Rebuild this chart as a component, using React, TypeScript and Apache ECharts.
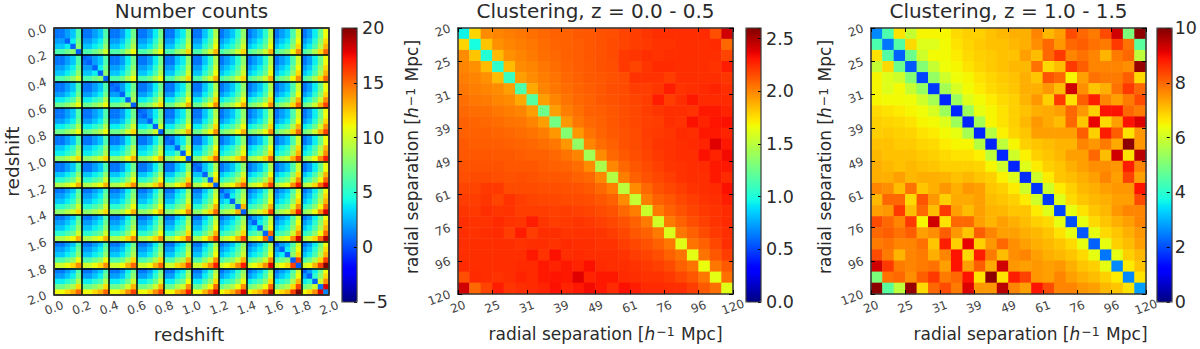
import React, { useEffect, useRef } from "react";
import * as echarts from "echarts";

const redshiftLabels = ["0.0","0.2","0.4","0.6","0.8","1.0","1.2","1.4","1.6","1.8","2.0"];
const separationLabels = ["20","25","31","39","49","61","76","96","120"];

// Number counts: upper-triangle 5x5 blocks, row band i, column band j >= i
const countBlocks: number[][][] = [
[
[1,1,2,3,6,1,1,2,3,6,2,2,.5,4,7,3,3,4,.5,8,6,6,7,8,.5],
[1,1,2,3,6,1,1,2,3,6,2,2,3,4,7,3,3,4,5,8,6,6,7,8,10],
[1,1,2,4,7,1,1,2,4,7,2,2,3,5,8,3,3,4,6,9,6,6,7,9,11],
[1,1,2,4,7,1,1,2,4,7,2,2,3,5,8,3,3,4,6,9,6,6,7,9,11],
[1,1,3,4,8,1,1,3,4,8,2,2,4,5,9,3,3,5,6,10,6,6,8,9,12],
[1,1,3,5,9,1,1,3,5,9,2,2,4,6,10,3,3,5,7,11,6,6,8,10,13],
[1,2,3,5,8,1,2,3,5,8,2,3,4,6,9,3,4,5,7,10,6,7,8,10,12],
[1,2,3,5,9,1,2,3,5,9,2,3,4,6,10,3,4,5,7,11,6,7,8,10,13],
[1,2,3,6,10,1,2,3,6,10,2,3,4,7,11,3,4,5,8,12,6,7,8,11,14],
[1,2,4,7,11,1,2,4,7,11,2,3,5,8,12,3,4,6,9,13,6,7,9,12,15],
],
[
[.5,1,2,3,6,1,.5,2,3,6,2,2,.5,4,7,3,3,4,.5,8,6,6,7,8,.5],
[1,1,2,4,7,1,1,2,4,7,2,2,3,5,8,3,3,4,6,9,6,6,7,9,11],
[1,1,2,4,7,1,1,2,4,7,2,2,3,5,8,3,3,4,6,9,6,6,7,9,11],
[1,1,3,4,8,1,1,3,4,8,2,2,4,5,9,3,3,5,6,10,6,6,8,9,12],
[1,1,3,5,9,1,1,3,5,9,2,2,4,6,10,3,3,5,7,11,6,6,8,10,13],
[1,2,3,5,8,1,2,3,5,8,2,3,4,6,9,3,4,5,7,10,6,7,8,10,12],
[1,2,3,5,9,1,2,3,5,9,2,3,4,6,10,3,4,5,7,11,6,7,8,10,13],
[1,2,3,6,10,1,2,3,6,10,2,3,4,7,11,3,4,5,8,12,6,7,8,11,14],
[1,2,4,7,11,1,2,4,7,11,2,3,5,8,12,3,4,6,9,13,6,7,9,12,15],
],
[
[.5,1,2,4,7,1,.5,2,4,7,2,2,.5,5,8,4,4,5,.5,9,7,7,8,9,.5],
[1,1,2,4,7,1,1,2,4,7,2,2,3,5,8,4,4,5,7,10,7,7,8,10,12],
[1,1,3,4,8,1,1,3,4,8,2,2,4,5,9,4,4,6,7,11,7,7,9,10,13],
[1,1,3,5,9,1,1,3,5,9,2,2,4,6,10,4,4,6,8,12,7,7,9,11,14],
[1,2,3,5,8,1,2,3,5,8,2,3,4,6,9,4,5,6,8,11,7,8,9,11,13],
[1,2,3,5,9,1,2,3,5,9,2,3,4,6,10,4,5,6,8,12,7,8,9,11,14],
[1,2,3,6,10,1,2,3,6,10,2,3,4,7,11,4,5,6,9,13,7,8,9,12,15],
[1,2,4,7,11,1,2,4,7,11,2,3,5,8,12,4,5,7,10,14,7,8,10,13,16],
],
[
[.5,1,2,4,7,1,.5,2,4,7,2,2,.5,5,8,4,4,5,.5,10,7,7,8,10,.5],
[1,1,3,4,8,1,1,3,4,8,2,2,4,5,9,4,4,6,7,11,7,7,9,10,13],
[1,1,3,5,9,1,1,3,5,9,2,2,4,6,10,4,4,6,8,12,7,7,9,11,14],
[1,2,3,5,8,1,2,3,5,8,2,3,4,6,9,4,5,6,8,11,7,8,9,11,13],
[1,2,3,5,9,1,2,3,5,9,2,3,4,6,10,4,5,6,8,12,7,8,9,11,14],
[1,2,3,6,10,1,2,3,6,10,2,3,4,7,11,4,5,6,9,13,7,8,9,12,15],
[1,2,4,7,11,1,2,4,7,11,2,3,5,8,12,4,5,7,10,14,7,8,10,13,16],
],
[
[.5,1,3,4,8,1,.5,3,4,8,3,3,.5,6,10,4,4,6,.5,11,8,8,10,11,.5],
[1,1,3,5,9,1,1,3,5,9,3,3,5,7,11,4,4,6,8,12,8,8,10,12,15],
[1,2,3,5,8,1,2,3,5,8,3,4,5,7,10,4,5,6,8,11,8,9,10,12,14],
[1,2,3,5,9,1,2,3,5,9,3,4,5,7,11,4,5,6,8,12,8,9,10,12,15],
[1,2,3,6,10,1,2,3,6,10,3,4,5,8,12,4,5,6,9,13,8,9,10,13,16],
[1,2,4,7,11,1,2,4,7,11,3,4,6,9,13,4,5,7,10,14,8,9,11,14,17],
],
[
[.5,1,3,5,9,1,.5,3,5,9,3,3,.5,7,11,5,5,7,.5,12,9,9,11,12,.5],
[1,2,3,5,8,1,2,3,5,8,3,4,5,7,10,5,6,7,9,12,9,10,11,13,15],
[1,2,3,5,9,1,2,3,5,9,3,4,5,7,11,5,6,7,9,13,9,10,11,13,16],
[1,2,3,6,10,1,2,3,6,10,3,4,5,8,12,5,6,7,10,14,9,10,11,14,17],
[1,2,4,7,11,1,2,4,7,11,3,4,6,9,13,5,6,8,11,15,9,10,12,15,18],
],
[
[.5,2,3,5,8,2,.5,4,6,9,3,4,.5,7,10,5,6,7,.5,13,8,9,10,13,.5],
[1,2,3,5,9,2,3,4,6,10,3,4,5,7,11,5,6,7,9,13,8,9,10,12,16],
[1,2,3,6,10,2,3,4,7,11,3,4,5,8,12,5,6,7,10,14,8,9,10,13,17],
[1,2,4,7,11,2,3,5,8,12,3,4,6,9,13,5,6,8,11,15,8,9,11,14,18],
],
[
[.5,2,3,5,9,2,.5,4,6,10,3,4,.5,7,11,5,6,7,.5,15,9,10,11,15,.5],
[1,2,3,6,10,2,3,4,7,11,3,4,5,8,12,5,6,7,10,14,9,10,11,14,18],
[1,2,4,7,11,2,3,5,8,12,3,4,6,9,13,5,6,8,11,15,9,10,12,15,19],
],
[
[.5,2,3,6,10,2,.5,4,7,11,3,4,.5,8,12,6,7,8,.5,16,10,11,12,16,.5],
[1,2,4,7,11,2,3,5,8,12,3,4,6,9,13,6,7,9,12,16,10,11,13,16,20],
],
[
[.5,2,4,7,11,2,.5,5,8,12,4,5,.5,10,14,7,8,10,1,18,11,12,14,18,1.5],
],
];

// Clustering z = 0.0 - 0.5: upper triangle, row k starts on the diagonal
const lowZRows: number[][] = [
[0.95,1.78,1.98,2.0,2.02,2.04,2.06,2.08,2.1,2.1,2.12,2.13,2.14,2.15,2.18,2.2,2.22,2.24,2.24,2.24,2.24,2.25,2.15,2.42],
[0.98,1.82,1.97,2.0,2.02,2.04,2.07,2.09,2.1,2.11,2.13,2.14,2.16,2.18,2.2,2.21,2.23,2.23,2.24,2.24,2.24,2.25,2.08],
[1.02,1.85,1.97,2.0,2.03,2.06,2.08,2.1,2.11,2.13,2.14,2.16,2.21,2.22,2.24,2.23,2.24,2.24,2.24,2.24,2.24,2.18],
[1.05,1.85,1.98,2.0,2.04,2.07,2.09,2.11,2.12,2.14,2.15,2.21,2.18,2.22,2.25,2.25,2.24,2.24,2.24,2.23,2.29],
[1.08,1.93,1.98,2.02,2.05,2.08,2.1,2.12,2.13,2.14,2.16,2.23,2.23,2.23,2.2,2.24,2.24,2.24,2.24,2.22],
[1.15,1.9,2.0,2.04,2.07,2.09,2.11,2.13,2.15,2.16,2.2,2.2,2.22,2.29,2.23,2.24,2.25,2.27,2.24],
[1.18,1.93,2.0,2.05,2.08,2.1,2.13,2.14,2.16,2.18,2.2,2.29,2.2,2.24,2.3,2.25,2.25,2.25],
[1.25,1.93,2.02,2.06,2.1,2.11,2.13,2.15,2.17,2.2,2.22,2.24,2.24,2.23,2.3,2.3,2.27],
[1.28,1.95,2.04,2.08,2.1,2.13,2.15,2.17,2.19,2.2,2.24,2.23,2.32,2.27,2.31,2.32],
[1.33,1.95,2.05,2.09,2.12,2.14,2.16,2.2,2.21,2.22,2.25,2.24,2.3,2.3,2.27],
[1.37,2.0,2.07,2.1,2.14,2.16,2.19,2.22,2.23,2.24,2.25,2.27,2.38,2.3],
[1.42,1.98,2.08,2.12,2.15,2.18,2.21,2.23,2.24,2.24,2.32,2.27,2.34],
[1.45,1.99,2.08,2.13,2.16,2.19,2.22,2.23,2.24,2.25,2.3,2.3],
[1.48,2.02,2.1,2.14,2.17,2.2,2.23,2.24,2.24,2.3,2.25],
[1.5,1.98,2.08,2.14,2.17,2.2,2.23,2.24,2.25,2.32],
[1.53,2.02,2.1,2.13,2.17,2.2,2.23,2.24,2.29],
[1.55,2.03,2.1,2.14,2.18,2.21,2.23,2.25],
[1.57,2.03,2.1,2.15,2.19,2.23,2.25],
[1.6,2.04,2.1,2.16,2.21,2.24],
[1.62,2.05,2.1,2.17,2.24],
[1.63,2.05,2.13,2.2],
[1.65,2.04,2.12],
[1.63,2.06],
[1.62],
];

// Clustering z = 1.0 - 1.5: upper triangle, row k starts on the diagonal
const highZRows: number[][] = [
[2.6,4.4,6.7,5.9,6.5,6.5,6.5,6.8,6.9,6.9,7.05,7.15,7.25,7.25,7.7,7.15,7.4,8.3,8.0,7.8,8.3,9.3,5.0,9.9],
[2.4,4.5,6.8,6.2,6.2,6.45,6.7,6.85,6.95,7.05,7.05,7.15,7.25,7.6,8.0,7.5,8.0,8.1,7.9,7.8,8.5,7.9,4.6],
[2.2,4.8,6.0,6.45,6.45,6.6,6.8,6.9,6.95,7.05,7.05,7.4,7.1,8.0,8.5,7.7,7.9,7.7,7.2,7.8,8.0,5.8],
[2.1,5.1,5.9,6.4,6.5,6.7,6.85,6.95,7.05,7.15,7.15,7.9,6.8,7.1,8.5,8.1,7.7,7.7,7.7,7.6,9.8],
[1.9,5.3,6.0,6.4,6.5,6.7,6.85,6.95,7.05,7.25,7.0,8.2,8.0,6.5,7.4,7.9,7.8,7.8,8.1,6.8],
[1.8,5.5,6.1,6.45,6.6,6.8,6.9,7.0,7.25,7.25,7.5,7.1,9.3,7.6,7.0,7.25,7.9,8.5,8.0],
[1.6,5.4,6.2,6.45,6.6,6.8,6.9,7.2,7.5,6.9,8.5,6.7,8.1,8.8,7.7,7.4,7.8,8.3],
[1.6,5.4,6.3,6.5,6.7,6.9,7.05,7.25,7.3,7.4,8.0,7.5,6.9,8.9,8.9,8.0,7.8],
[1.6,5.5,6.5,6.7,6.9,7.15,7.5,7.3,7.1,8.0,7.0,9.1,6.8,7.4,8.9,9.2],
[1.6,5.7,6.55,6.85,7.0,7.4,7.4,7.4,7.4,8.1,6.9,8.8,8.1,6.7,7.5],
[1.6,5.8,6.5,6.9,7.0,7.1,7.2,7.2,7.7,7.5,7.8,7.3,9.9,7.5],
[1.6,6.0,6.55,6.9,7.0,7.15,7.4,7.4,8.0,7.1,9.3,6.7,9.5],
[1.6,6.2,6.6,6.9,7.0,7.25,7.4,7.6,7.6,7.5,8.8,7.7],
[1.7,6.0,6.6,7.0,7.1,7.25,7.4,7.7,7.4,8.4,7.4],
[1.75,6.0,6.6,6.9,7.15,7.25,7.4,7.5,7.5,8.9],
[1.8,6.2,6.8,7.0,7.15,7.25,7.4,7.4,8.3],
[1.9,6.3,6.7,7.0,7.15,7.5,7.7,7.7],
[2.0,6.3,6.8,7.0,7.25,7.4,7.7],
[2.1,6.3,6.8,7.0,7.25,7.5],
[2.2,6.3,6.9,7.1,7.4],
[2.4,6.3,6.9,7.15],
[2.6,6.6,7.0],
[2.6,6.7],
[2.8],
];

const FONT = "DejaVu Sans";
const INK = "#2a2a2a";
const SPINE = "#3a3a3a";

function jet(t: number): string {
  const seg = (pts: number[][]) => {
    for (let i = 1; i < pts.length; i++) {
      if (t <= pts[i][0]) {
        const f = (t - pts[i - 1][0]) / (pts[i][0] - pts[i - 1][0]);
        return pts[i - 1][1] + f * (pts[i][1] - pts[i - 1][1]);
      }
    }
    return pts[pts.length - 1][1];
  };
  const r = seg([[0, 0], [0.35, 0], [0.66, 1], [0.89, 1], [1, 0.5]]);
  const g = seg([[0, 0], [0.125, 0], [0.375, 1], [0.64, 1], [0.91, 0], [1, 0]]);
  const b = seg([[0, 0.5], [0.11, 1], [0.34, 1], [0.65, 0], [1, 0]]);
  return `rgb(${Math.round(r * 255)},${Math.round(g * 255)},${Math.round(b * 255)})`;
}
const jetColors = Array.from({ length: 129 }, (_, i) => jet(i / 128));

function triangleCells(rows: number[][]) {
  const out: number[][] = [];
  rows.forEach((row, k) =>
    row.forEach((v, d) => {
      out.push([k + d, k, v]);
      if (d > 0) out.push([k, k + d, v]);
    })
  );
  return out;
}

function blockCells(blocks: number[][][]) {
  const out: number[][] = [];
  blocks.forEach((band, i) =>
    band.forEach((flat, d) => {
      const j = i + d;
      flat.forEach((v, n) => {
        const r = Math.floor(n / 5);
        const c = n % 5;
        out.push([5 * j + c, 5 * i + r, v]);
        if (d > 0) out.push([5 * i + r, 5 * j + c, v]);
      });
    })
  );
  return out;
}

const indices = (n: number) => Array.from({ length: n }, (_, i) => String(i));

const sepName = "radial separation [{i|h}{s|−1} Mpc]";
const panels = [
  { left: 54, title: "Number counts", n: 50, max: 2, step: 0.2, labels: redshiftLabels, cells: blockCells(countBlocks), xName: "redshift", yName: "redshift", nameSize: 18.5, xGap: 30, yGap: 31, xPad: [0, 5, 0, 0], yPad: [0, 0, 0, 0], grid: true },
  { left: 458, title: "Clustering, z = 0.0 - 0.5", n: 24, max: 24, step: 3, labels: separationLabels, cells: triangleCells(lowZRows), xName: sepName, yName: sepName, nameSize: 17, xGap: 31, yGap: 35, xPad: [0, 0, 0, 20], yPad: [0, 0, 0, 8], grid: false },
  { left: 871, title: "Clustering, z = 1.0 - 1.5", n: 24, max: 24, step: 3, labels: separationLabels, cells: triangleCells(highZRows), xName: sepName, yName: sepName, nameSize: 17, xGap: 31, yGap: 31, xPad: [0, 0, 0, 44], yPad: [0, 0, 0, 8], grid: false },
];
const bars = [
  { left: 342, min: -5, max: 20, step: 5 },
  { left: 746, min: 0, max: 2.6, step: 0.5 },
  { left: 1157, min: 0, max: 10, step: 2 },
];

const TOP = 28;
const SIZE_W = 275;
const SIZE_H = 274;
const BAR_W = 15;

const nameStyle = (padding: number[], size: number) => ({
  fontFamily: FONT,
  fontSize: size,
  color: INK,
  padding,
  rich: {
    i: { fontFamily: FONT, fontSize: size, fontStyle: "italic", color: INK },
    s: { fontFamily: FONT, fontSize: 12.5, color: INK, verticalAlign: "top", lineHeight: 14, padding: [0, 1, 6, 1] },
  },
});

function buildOption() {
  const grid: any[] = [];
  const xAxis: any[] = [];
  const yAxis: any[] = [];
  const series: any[] = [];
  const visualMap: any[] = [];
  const title: any[] = [];
  const graphic: any[] = [];

  panels.forEach((p, idx) => {
    grid.push({ left: p.left, top: TOP, width: SIZE_W, height: SIZE_H, containLabel: false });
    const lineStyle = { color: SPINE, width: 1.6 };
    const tick = { show: !p.grid, inside: true, length: 4, lineStyle: { color: "#000", width: 1 } };
    const split = p.grid ? { show: true, lineStyle: { color: "#000", width: 1.5 } } : { show: false };
    const fmt = (v: number) => p.labels[Math.round(v / p.step)] ?? "";
    const cat = indices(p.n);
    const xCat = xAxis.length;
    xAxis.push({ type: "category", gridIndex: idx, data: cat, show: false });
    xAxis.push({
      type: "value", gridIndex: idx, min: 0, max: p.max, interval: p.step, position: "bottom", z: 6,
      axisLine: { show: true, onZero: false, lineStyle }, axisTick: tick, splitLine: split,
      axisLabel: { show: true, formatter: fmt, rotate: 20, margin: 13, align: "center", verticalAlign: "middle", fontFamily: FONT, fontSize: 12, color: "#444", showMinLabel: true, showMaxLabel: true, hideOverlap: false },
      name: p.xName, nameLocation: "middle", nameGap: p.xGap, nameTextStyle: nameStyle(p.xPad, p.nameSize),
    });
    xAxis.push({
      type: "value", gridIndex: idx, min: 0, max: p.max, interval: p.step, position: "top", z: 6,
      axisLine: { show: true, onZero: false, lineStyle }, axisTick: tick, splitLine: { show: false }, axisLabel: { show: false },
    });
    const yCat = yAxis.length;
    yAxis.push({ type: "category", gridIndex: idx, data: cat, inverse: true, show: false });
    yAxis.push({
      type: "value", gridIndex: idx, min: 0, max: p.max, interval: p.step, inverse: true, position: "left", z: 6,
      axisLine: { show: true, onZero: false, lineStyle }, axisTick: tick, splitLine: split,
      axisLabel: { show: true, formatter: fmt, rotate: 20, margin: 8, fontFamily: FONT, fontSize: 12, color: "#444", showMinLabel: true, showMaxLabel: true, hideOverlap: false },
      name: p.yName, nameLocation: "middle", nameGap: p.yGap, nameTextStyle: nameStyle(p.yPad, p.nameSize),
    });
    yAxis.push({
      type: "value", gridIndex: idx, min: 0, max: p.max, interval: p.step, inverse: true, position: "right", z: 6,
      axisLine: { show: true, onZero: false, lineStyle }, axisTick: tick, splitLine: { show: false }, axisLabel: { show: false },
    });
    series.push({
      type: "heatmap", xAxisIndex: xCat, yAxisIndex: yCat, data: p.cells, z: 2,
      itemStyle: { borderWidth: 0 }, emphasis: { disabled: true }, progressive: 0,
    });
    title.push({
      text: p.title, left: p.left + SIZE_W / 2, top: 1, padding: 0, textAlign: "center",
      textStyle: { fontFamily: FONT, fontSize: 20, fontWeight: "normal", color: INK },
    });
  });

  bars.forEach((b, k) => {
    const gridIndex = panels.length + k;
    grid.push({ left: b.left, top: TOP, width: BAR_W, height: SIZE_H, containLabel: false });
    xAxis.push({ type: "value", gridIndex, min: 0, max: 1, show: false });
    yAxis.push({
      type: "value", gridIndex, min: b.min, max: b.max, interval: b.step, position: "right", z: 6,
      axisLine: { show: false, onZero: false }, splitLine: { show: false },
      axisTick: { show: true, inside: true, length: 3, lineStyle: { color: "#000", width: 1 } },
      axisLabel: { show: true, margin: 5, fontFamily: FONT, fontSize: 17.5, color: INK, formatter: (v: number) => {
        if (k === 1) return v > 2.5 ? "" : v.toFixed(1);
        return String(v).replace("-", "−");
      } },
    });
    visualMap.push({
      type: "continuous", seriesIndex: k, dimension: 2, min: b.min, max: b.max, left: b.left, top: TOP,
      itemWidth: BAR_W, itemHeight: SIZE_H, padding: 0, calculable: false, hoverLink: false, realtime: false,
      inRange: { color: jetColors }, outOfRange: { color: jetColors },
    });
    graphic.push({
      type: "rect", z: 50, shape: { x: b.left, y: TOP, width: BAR_W, height: SIZE_H },
      style: { fill: "none", stroke: SPINE, lineWidth: 1.2 }, silent: true,
    });
  });

  return { animation: false, backgroundColor: "#fff", tooltip: { show: false }, title, grid, xAxis, yAxis, series, visualMap, graphic };
}

export default function App() {
  const ref = useRef<HTMLDivElement>(null);
  useEffect(() => {
    document.body.style.margin = "0";
    const chart = echarts.init(ref.current!, undefined, { renderer: "svg" });
    chart.setOption(buildOption() as any);
    return () => chart.dispose();
  }, []);
  return <div ref={ref} style={{ width: 1200, height: 349 }} />;
}
